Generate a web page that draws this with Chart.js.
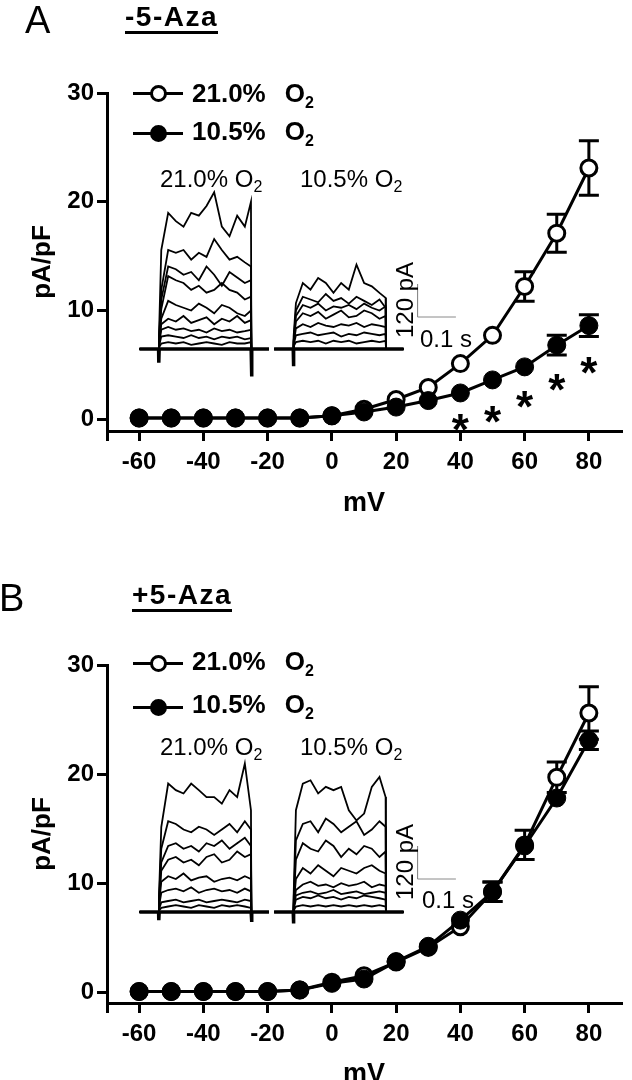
<!DOCTYPE html>
<html>
<head>
<meta charset="utf-8">
<title>Current density vs voltage, -5-Aza / +5-Aza</title>
<script src="https://cdn.jsdelivr.net/npm/chart.js@4.4.1/dist/chart.umd.min.js"></script>
<style>
  html, body { margin: 0; padding: 0; background: #fff; }
  body { position: relative; width: 632px; height: 1080px; overflow: hidden;
         font-family: "Liberation Sans", Arial, sans-serif; color: #000; }
  canvas { position: absolute; left: 0; }
  #chartA { top: 0; }
  #chartB { top: 540px; }
  .t { position: absolute; white-space: nowrap; line-height: 1; }
  .letter { font-size: 38px; }
  .title { font-size: 28px; font-weight: bold; letter-spacing: 1.5px; border-bottom: 3px solid #000; }
  .leg { font-size: 26px; font-weight: bold; }
  .leg .o { margin-left: 19px; }
  .leg sub { font-size: 16px; position: relative; top: 6px; vertical-align: baseline; }
  .ins { font-size: 24px; }
  .ins sub { font-size: 16px; position: relative; top: 5px; vertical-align: baseline; }
  .line { position: absolute; height: 3px; width: 50px; background: #000; }
  .dot { position: absolute; width: 17px; height: 17px; border-radius: 50%; box-sizing: border-box;
         border: 3px solid #000; background: #fff; }
  .dot.fill { background: #000; }
  .rot { transform-origin: 0 0; transform: rotate(-90deg); }
</style>
</head>
<body>
<canvas id="chartA" width="632" height="540"></canvas>
<canvas id="chartB" width="632" height="560"></canvas>

<!-- panel A labels -->
<div class="t letter" style="left:25px;top:1px">A</div>
<div class="t title" style="left:125px;top:3px">-5-Aza</div>
<div class="line" style="left:133px;top:91.5px"></div>
<div class="dot" style="left:149.5px;top:84.5px"></div>
<div class="t leg" style="left:192px;top:80px">21.0%<span class="o">O<sub>2</sub></span></div>
<div class="line" style="left:133px;top:131.5px"></div>
<div class="dot fill" style="left:149.5px;top:124.5px"></div>
<div class="t leg" style="left:192px;top:118px">10.5%<span class="o">O<sub>2</sub></span></div>
<div class="t ins" style="left:160px;top:167px">21.0% O<sub>2</sub></div>
<div class="t ins" style="left:300px;top:167px">10.5% O<sub>2</sub></div>
<div class="t ins rot" style="left:393px;top:338px">120 pA</div>
<div class="t ins" style="left:420px;top:327px">0.1 s</div>

<!-- panel B labels -->
<div class="t letter" style="left:-1px;top:579px">B</div>
<div class="t title" style="left:132px;top:581px">+5-Aza</div>
<div class="line" style="left:133px;top:661.5px"></div>
<div class="dot" style="left:149.5px;top:654.5px"></div>
<div class="t leg" style="left:192px;top:648px">21.0%<span class="o">O<sub>2</sub></span></div>
<div class="line" style="left:133px;top:705.5px"></div>
<div class="dot fill" style="left:149.5px;top:698.5px"></div>
<div class="t leg" style="left:192px;top:691px">10.5%<span class="o">O<sub>2</sub></span></div>
<div class="t ins" style="left:160px;top:735px">21.0% O<sub>2</sub></div>
<div class="t ins" style="left:300px;top:735px">10.5% O<sub>2</sub></div>
<div class="t ins rot" style="left:393px;top:900px">120 pA</div>
<div class="t ins" style="left:422px;top:888px">0.1 s</div>

<script>
// I-V data (mV vs pA/pF)
const voltages = [-60, -50, -40, -30, -20, -10, 0, 10, 20, 30, 40, 50, 60, 70, 80];
const xTickValues = [-60, -40, -20, 0, 20, 40, 60, 80];
const yTickValues = [0, 10, 20, 30];
const seriesLabels = ['21.0% O2', '10.5% O2'];

// panel A: -5-Aza
const aNormoxia    = [0.1, 0.1, 0.1, 0.1, 0.1, 0.1, 0.3, 0.9, 1.8, 2.9, 5.1, 7.7, 12.2, 17.1, 23.1];
const aNormoxiaSem = [0, 0, 0, 0, 0, 0, 0.1, 0.2, 0.2, 0.3, 0.4, 0.75, 1.35, 1.75, 2.5];
const aHypoxia     = [0.1, 0.1, 0.1, 0.1, 0.1, 0.1, 0.3, 0.65, 1.1, 1.7, 2.4, 3.6, 4.8, 6.8, 8.6];
const aHypoxiaSem  = [0, 0, 0, 0, 0, 0, 0.1, 0.1, 0.2, 0.2, 0.3, 0.3, 0.4, 0.9, 1.0];
const aStarMv = [40, 50, 60, 70, 80];
const aStarY  = [-0.1, 0.65, 2.0, 3.6, 5.2];

// panel B: +5-Aza
const bNormoxia    = [0.05, 0.05, 0.05, 0.05, 0.05, 0.2, 0.9, 1.5, 2.75, 4.1, 6.0, 9.2, 13.5, 19.7, 25.6];
const bNormoxiaSem = [0, 0, 0, 0, 0, 0, 0.1, 0.2, 0.2, 0.3, 0.6, 0.9, 1.35, 1.4, 2.4];
const bHypoxia     = [0.05, 0.05, 0.05, 0.05, 0.05, 0.2, 0.8, 1.2, 2.8, 4.2, 6.6, 9.2, 13.4, 17.8, 23.1];
const bHypoxiaSem  = [0, 0, 0, 0, 0, 0, 0.1, 0.2, 0.2, 0.3, 0.6, 0.9, 0.8, 0.5, 0.85];

// inset current traces (pA), sampled during the voltage step
const sweepMs = [0, 50, 292, 338];   // start, step on, step off, end
const stepMs = [51, 57, 75, 95, 115, 135, 155, 175, 195, 215, 235, 255, 275, 291];
const scaleBarMs = 100;
const scaleBarPa = 120;

const aNormTraces = [
  [46, 360, 495, 465, 445, 495, 485, 520, 570, 445, 410, 485, 445, 535],
  [30, 215, 360, 350, 360, 325, 350, 335, 400, 360, 325, 335, 315, 300],
  [28, 180, 300, 290, 270, 280, 250, 300, 270, 230, 280, 260, 240, 250],
  [25, 145, 265, 250, 240, 215, 230, 205, 215, 240, 215, 205, 180, 190],
  [20, 110, 175, 160, 150, 140, 165, 150, 130, 160, 150, 130, 120, 140],
  [18, 90, 110, 100, 120, 95, 105, 115, 90, 110, 100, 120, 95, 105],
  [15, 70, 80, 70, 75, 65, 70, 60, 75, 65, 70, 60, 65, 70],
  [10, 45, 50, 45, 40, 50, 40, 45, 35, 45, 40, 45, 35, 40],
  [5, 20, 25, 20, 25, 15, 20, 25, 20, 15, 25, 20, 20, 25]
];
const aNormSpikes = [-50, -100];
const aHypTraces = [
  [46, 167, 240, 216, 258, 240, 204, 240, 216, 307, 240, 228, 204, 186],
  [30, 140, 190, 180, 170, 200, 175, 185, 165, 190, 175, 160, 180, 150],
  [28, 120, 160, 150, 165, 140, 155, 150, 160, 145, 165, 150, 140, 155],
  [25, 100, 130, 120, 135, 110, 125, 140, 115, 120, 140, 130, 110, 120],
  [20, 75, 90, 80, 95, 85, 80, 90, 85, 95, 80, 90, 85, 80],
  [15, 50, 55, 60, 50, 55, 60, 45, 55, 50, 60, 55, 50, 55],
  [10, 25, 30, 25, 30, 20, 30, 25, 30, 20, 25, 30, 25, 30]
];
const aHypSpikes = [-63, 0];

const bNormTraces = [
  [55, 309, 467, 443, 431, 467, 443, 418, 418, 394, 443, 418, 540, 370],
  [40, 230, 330, 320, 300, 290, 310, 300, 280, 300, 320, 290, 330, 300],
  [35, 180, 240, 250, 230, 240, 220, 250, 240, 260, 230, 250, 270, 240],
  [30, 150, 190, 200, 180, 190, 170, 200, 210, 180, 190, 220, 200, 210],
  [25, 110, 130, 120, 140, 115, 125, 130, 110, 120, 125, 115, 130, 120],
  [20, 70, 80, 85, 75, 90, 70, 80, 85, 75, 80, 70, 85, 75],
  [10, 35, 40, 45, 35, 40, 45, 35, 40, 45, 40, 35, 45, 40],
  [5, 15, 20, 25, 20, 15, 25, 20, 15, 25, 20, 25, 20, 15]
];
const bNormSpikes = [-30, -36];
const bHypTraces = [
  [55, 370, 467, 479, 431, 455, 443, 455, 370, 333, 358, 455, 491, 418],
  [40, 260, 320, 330, 290, 340, 320, 290, 310, 330, 280, 300, 330, 310],
  [30, 190, 250, 230, 220, 260, 240, 200, 230, 210, 240, 230, 200, 220],
  [25, 120, 160, 140, 170, 150, 130, 160, 150, 140, 160, 170, 150, 140],
  [20, 80, 100, 110, 95, 100, 90, 105, 95, 100, 110, 90, 100, 95],
  [15, 60, 70, 75, 65, 70, 80, 65, 70, 75, 65, 70, 75, 70],
  [10, 45, 55, 50, 60, 50, 55, 45, 55, 50, 60, 55, 50, 45],
  [5, 20, 25, 20, 25, 20, 25, 20, 25, 20, 25, 20, 25, 20]
];
const bHypSpikes = [-42, 0];

// layout (pixels inside each canvas)
const FONT = '"Liberation Sans", Arial, sans-serif';
const PLOT_LEFT = 107, PLOT_RIGHT = 630;
const X_MIN = -70, X_MAX = 90;
const PX_PER_MS = 0.39, PX_PER_PA = 0.275;

Chart.defaults.color = '#000';
Chart.defaults.font.family = FONT;

// SEM bars, drawn under the markers
const errorBars = {
  id: 'errorBars',
  beforeDatasetsDraw(chart) {
    const ctx = chart.ctx, xs = chart.scales.x, ys = chart.scales.y;
    ctx.save();
    ctx.strokeStyle = '#000';
    ctx.lineWidth = 3;
    chart.data.datasets.forEach(ds => {
      if (!ds.sem) return;
      ds.data.forEach((p, i) => {
        const e = ds.sem[i];
        const px = xs.getPixelForValue(p.x);
        const top = ys.getPixelForValue(p.y + e);
        const bot = ys.getPixelForValue(p.y - e);
        if ((bot - top) / 2 < 9) return;
        ctx.beginPath();
        ctx.moveTo(px, top); ctx.lineTo(px, bot);
        ctx.moveTo(px - 10, top); ctx.lineTo(px + 10, top);
        ctx.moveTo(px - 10, bot); ctx.lineTo(px + 10, bot);
        ctx.stroke();
      });
    });
    ctx.restore();
  }
};

// significance marks
const asterisks = {
  id: 'asterisks',
  afterDatasetsDraw(chart, args, opts) {
    if (!opts.mv || !opts.mv.length) return;
    const ctx = chart.ctx, xs = chart.scales.x, ys = chart.scales.y;
    const size = 44;
    ctx.save();
    ctx.font = 'bold ' + size + 'px ' + FONT;
    ctx.fillStyle = '#000';
    ctx.textAlign = 'center';
    ctx.textBaseline = 'alphabetic';
    for (let i = 0; i < opts.mv.length; i++) {
      ctx.fillText('*', xs.getPixelForValue(opts.mv[i]), ys.getPixelForValue(opts.y[i]) + 0.57 * size);
    }
    ctx.restore();
  }
};

function traceSets(traces, spikes, axisId) {
  const sets = traces.map(tr => ({
    data: [{x: sweepMs[0], y: 0}, {x: sweepMs[1], y: 0}]
      .concat(stepMs.map((t, i) => ({x: t, y: tr[i]})))
      .concat([{x: sweepMs[2], y: 0}, {x: sweepMs[3], y: 0}]),
    xAxisID: axisId, yAxisID: 'yTrace', showLine: true,
    borderColor: '#000', borderWidth: 1.8, pointRadius: 0, order: 5
  }));
  // baseline with capacitive transients
  sets.push({
    data: [
      {x: sweepMs[0], y: 0}, {x: sweepMs[1], y: 0}, {x: sweepMs[1] + 0.5, y: spikes[0]},
      {x: sweepMs[1] + 1.5, y: 0}, {x: sweepMs[2] - 0.5, y: 0}, {x: sweepMs[2] + 0.5, y: spikes[1]},
      {x: sweepMs[2] + 1.5, y: 0}, {x: sweepMs[3], y: 0}
    ],
    xAxisID: axisId, yAxisID: 'yTrace', showLine: true,
    borderColor: '#000', borderWidth: 3.5, pointRadius: 0, order: 6
  });
  return sets;
}

function buildPanel(canvasId, p) {
  const pts = ys => voltages.map((v, i) => ({x: v, y: ys[i]}));
  const top = p.top, bottom = p.height - p.xAxisHeight;

  // scale bar corner in trace units
  const sbX = (p.scaleBar[0] - p.insetX[0]) / PX_PER_MS;
  const sbY = (p.insetBase - p.scaleBar[1]) / PX_PER_PA;

  const datasets = [
    {
      label: seriesLabels[1], data: pts(p.hyp), sem: p.hypSem,
      xAxisID: 'x', yAxisID: 'y', showLine: true, borderColor: '#000', borderWidth: 3,
      pointRadius: 9, pointBackgroundColor: '#000', pointBorderColor: '#000', pointBorderWidth: 1, order: 0
    },
    {
      label: seriesLabels[0], data: pts(p.norm), sem: p.normSem,
      xAxisID: 'x', yAxisID: 'y', showLine: true, borderColor: '#000', borderWidth: 3,
      pointRadius: 8, pointBackgroundColor: '#fff', pointBorderColor: '#000', pointBorderWidth: 3, order: 1
    },
    {
      data: [{x: sbX, y: sbY + scaleBarPa}, {x: sbX, y: sbY}, {x: sbX + scaleBarMs, y: sbY}],
      xAxisID: 'xTrace1', yAxisID: 'yTrace', showLine: true,
      borderColor: '#8a8a8a', borderWidth: 1, pointRadius: 0, order: 7
    }
  ].concat(traceSets(p.normTraces, p.normSpikes, 'xTrace1'))
   .concat(traceSets(p.hypTraces, p.hypSpikes, 'xTrace2'));

  const axisGrid = {drawOnChartArea: false, drawTicks: true, tickLength: 10, color: '#000', lineWidth: 3};
  const axisBorder = {display: true, color: '#000', width: 3};
  const tickFont = {family: FONT, size: 24, weight: 'bold'};

  return new Chart(document.getElementById(canvasId), {
    type: 'scatter',
    data: {datasets},
    options: {
      responsive: false,
      animation: false,
      layout: {padding: {top: top, right: 632 - PLOT_RIGHT, bottom: 0, left: 0}},
      plugins: {
        legend: {display: false},
        tooltip: {enabled: false},
        asterisks: {mv: p.starMv, y: p.starY}
      },
      scales: {
        x: {
          type: 'linear', min: X_MIN, max: X_MAX,
          afterBuildTicks: s => { s.ticks = [X_MIN].concat(xTickValues).map(v => ({value: v})); },
          afterFit: s => { s.height = p.xAxisHeight; },
          ticks: {font: tickFont, color: '#000', padding: 7, maxRotation: 0, autoSkip: false,
                  callback: v => (v === X_MIN ? '' : String(v))},
          grid: axisGrid, border: axisBorder,
          title: {display: true, text: 'mV', color: '#000',
                  font: {family: FONT, size: 27, weight: 'bold'}, padding: {top: 0, bottom: p.xTitlePad}}
        },
        y: {
          type: 'linear', min: p.yMin, max: 30,
          afterBuildTicks: s => { s.ticks = yTickValues.map(v => ({value: v})); },
          afterFit: s => { s.width = PLOT_LEFT; },
          ticks: {font: tickFont, color: '#000', padding: 3},
          grid: axisGrid, border: axisBorder,
          title: {display: true, text: 'pA/pF', color: '#000',
                  font: {family: FONT, size: 26, weight: 'bold'}, padding: {top: 27, bottom: 0}}
        },
        xTrace1: {type: 'linear', display: false,
                  min: (PLOT_LEFT - p.insetX[0]) / PX_PER_MS, max: (PLOT_RIGHT - p.insetX[0]) / PX_PER_MS},
        xTrace2: {type: 'linear', display: false,
                  min: (PLOT_LEFT - p.insetX[1]) / PX_PER_MS, max: (PLOT_RIGHT - p.insetX[1]) / PX_PER_MS},
        yTrace: {type: 'linear', display: false,
                 min: -(bottom - p.insetBase) / PX_PER_PA, max: (p.insetBase - top) / PX_PER_PA}
      }
    },
    plugins: [errorBars, asterisks]
  });
}

buildPanel('chartA', {
  height: 540, top: 93, xAxisHeight: 109, xTitlePad: 20, yMin: -1.1,
  insetX: [140, 277], insetBase: 349, scaleBar: [423, 317],
  norm: aNormoxia, normSem: aNormoxiaSem, hyp: aHypoxia, hypSem: aHypoxiaSem,
  normTraces: aNormTraces, normSpikes: aNormSpikes, hypTraces: aHypTraces, hypSpikes: aHypSpikes,
  starMv: aStarMv, starY: aStarY
});

buildPanel('chartB', {
  height: 560, top: 125, xAxisHeight: 97, xTitlePad: 9, yMin: -1.0,
  insetX: [140, 277], insetBase: 372, scaleBar: [423, 339],
  norm: bNormoxia, normSem: bNormoxiaSem, hyp: bHypoxia, hypSem: bHypoxiaSem,
  normTraces: bNormTraces, normSpikes: bNormSpikes, hypTraces: bHypTraces, hypSpikes: bHypSpikes,
  starMv: [], starY: []
});
</script>
</body>
</html>
